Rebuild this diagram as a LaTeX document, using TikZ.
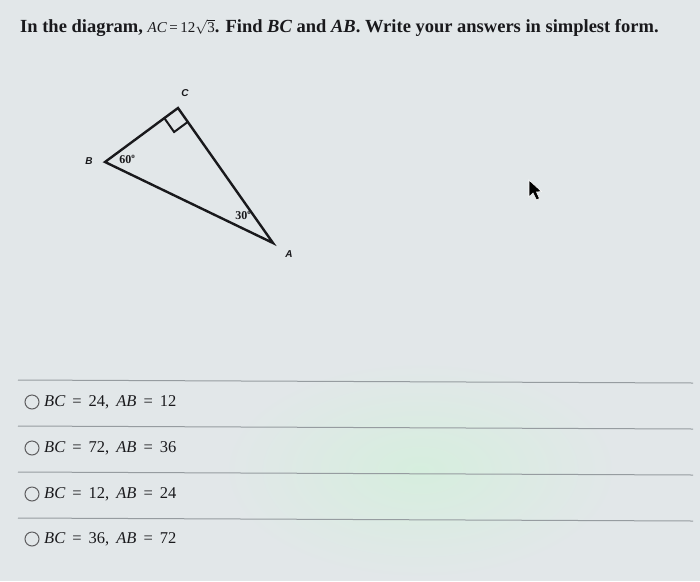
\documentclass[tikz,border=0pt]{standalone}
\usepackage{fontspec}
\setmainfont{Liberation Serif}
\setsansfont{Liberation Sans}
\usetikzlibrary{calc}
\definecolor{bg}{RGB}{226,231,233}
\definecolor{bggreen}{RGB}{214,238,222}
\definecolor{sep}{RGB}{150,156,160}
\definecolor{ink}{RGB}{25,25,28}
\newcommand{\eqsp}{\hspace{7pt}}
\tikzset{
  tri/.style={line width=2.4pt, ink, line join=miter},
  vlabel/.style={font=\sffamily\bfseries\itshape\fontsize{10}{10}\selectfont, text=ink, inner sep=0pt},
  anglabel/.style={font=\fontsize{12}{12}\selectfont\bfseries, text=ink, inner sep=0pt},
  sepline/.style={line width=1pt, sep},
  radio/.style={draw=ink!70, line width=1pt, circle, minimum size=14pt, inner sep=0pt},
  opt/.style={font=\fontsize{16.5}{16.5}\selectfont, text=ink, anchor=west, inner sep=0pt},
}
\begin{document}
\begin{tikzpicture}[x=1pt,y=-1pt]
\useasboundingbox (0,0) rectangle (700,581);
\fill[bg] (0,0) rectangle (700,581);
\shade[inner color=bggreen, outer color=bg] (420,470) ellipse (200 and 110);
% title
\node[anchor=west, inner sep=0pt, font=\fontsize{18.5}{18.5}\selectfont\bfseries, text=ink] (title) at (20,28)
 {In the diagram, {\mdseries\fontsize{15}{15}\selectfont\itshape AC\upshape\,=\,12\(\sqrt{\mbox{3}}\)}. Find \textit{BC} and \textit{AB}. Write your answers in simplest form.};
% triangle
\coordinate (C) at (178,108);
\coordinate (B) at (105,162);
\coordinate (A) at (273,243);
\draw[tri] (C) -- (B) -- (A) -- cycle;
\coordinate (p) at ($(C)!17pt!(B)$);
\coordinate (q) at ($(C)!17pt!(A)$);
\coordinate (r) at ($(p)+(q)-(C)$);
\draw[line width=2pt, ink] (p) -- (r) -- (q);
\node[vlabel] (lc) at (185,93) {C};
\node[vlabel] (lb) at (89,161) {B};
\node[vlabel] (la) at (289,254) {A};
\node[anglabel] (a60) at (127,159) {60\raisebox{0.9ex}{\fontsize{7}{7}\selectfont o}};
\node[anglabel] (a30) at (243,215) {30\raisebox{0.9ex}{\fontsize{7}{7}\selectfont o}};
% cursor
\filldraw[fill=black, draw=white, line width=0.6pt] (529,180) -- (529,197) -- (533,193) -- (536.5,200) -- (539.5,198.5) -- (536.5,192) -- (541.5,191.5) -- cycle;
% separators
\draw[sepline] (18,380) -- (693,383);
\draw[sepline] (18,426) -- (693,429);
\draw[sepline] (18,472) -- (693,475);
\draw[sepline] (18,518) -- (693,521);
% options
\node[radio] (r1) at (32,402) {};
\node[radio] (r2) at (32,448) {};
\node[radio] (r3) at (32,494) {};
\node[radio] (r4) at (32,539) {};
\node[opt] (o1) at (44,402) {\textit{BC}\eqsp=\eqsp24,\eqsp\textit{AB}\eqsp=\eqsp12};
\node[opt] (o2) at (44,448) {\textit{BC}\eqsp=\eqsp72,\eqsp\textit{AB}\eqsp=\eqsp36};
\node[opt] (o3) at (44,494) {\textit{BC}\eqsp=\eqsp12,\eqsp\textit{AB}\eqsp=\eqsp24};
\node[opt] (o4) at (44,539) {\textit{BC}\eqsp=\eqsp36,\eqsp\textit{AB}\eqsp=\eqsp72};
\end{tikzpicture}
\end{document}
